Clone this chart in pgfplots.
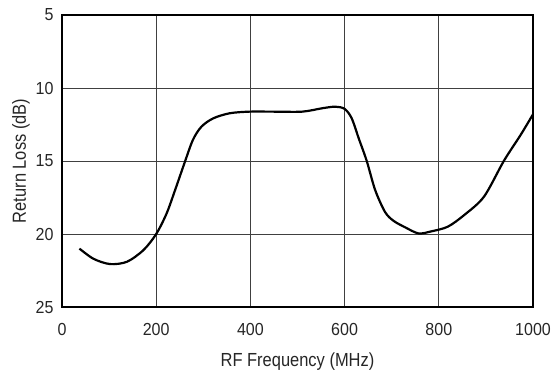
\documentclass[border=0pt]{standalone}
\usepackage{pgfplots}
\pgfplotsset{compat=1.18}
\usepackage{fontspec}
\setmainfont{Liberation Sans}
\newfontfamily\tickfont[FakeStretch=0.92]{Liberation Sans}
\newfontfamily\labfont[FakeStretch=0.87]{Liberation Sans}
\begin{document}
\begin{tikzpicture}
\path[use as bounding box] (-62bp,-65bp) rectangle (489bp,307bp);
\begin{axis}[
  at={(0,0)}, anchor=south west,
  scale only axis, width=471bp, height=292bp,
  xmin=0, xmax=1000, ymin=5, ymax=25, y dir=reverse,
  xtick={0,200,400,600,800,1000}, ytick={5,10,15,20,25},
  grid=major, major grid style={line width=0.8pt, color=black!75},
  major tick length=0pt,
  axis line style={line width=1.6pt, black},
  /pgf/number format/assume math mode=true,
  /pgf/number format/1000 sep={},
  tick label style={font=\tickfont\fontsize{17.5}{20}\selectfont, color=black!85},
  label style={font=\labfont\fontsize{19}{22}\selectfont, color=black!85},
  xticklabel style={yshift=-13bp},
  yticklabel style={xshift=-5bp},
  xlabel={RF Frequency (MHz)}, ylabel={Return Loss (dB)},
  xlabel style={yshift=-10bp},
  ylabel style={yshift=-1bp},
]
\addplot[black, line width=2.2pt, smooth, tension=0.5] coordinates {
(37,21.0)(67,21.7)(102,22.06)(138,21.9)(173,21.1)(200,20.0)(222,18.6)(240,17.0)(261,15.05)(278,13.55)(296,12.65)(321,12.08)(356,11.73)(398,11.62)(450,11.62)(510,11.62)(552,11.39)(580,11.28)(600,11.43)(615,12.07)(630,13.45)(647,15.0)(665,17.0)(686,18.5)(704,19.1)(729,19.55)(757,19.96)(784,19.82)(819,19.5)(854,18.7)(896,17.44)(938,15.0)(974,13.2)(1000,11.8)
};
\end{axis}
\end{tikzpicture}
\end{document}
